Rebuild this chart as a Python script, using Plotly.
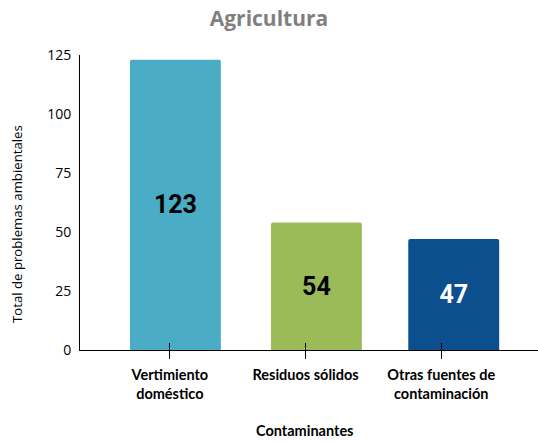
import plotly.graph_objects as go

categories = ["Vertimiento<br>doméstico", "Residuos sólidos", "Otras fuentes de<br>contaminación"]
values = [123, 54, 47]
bar_colors = ["#4BACC6", "#9BBB59", "#0B4F8F"]
text_colors = ["#000000", "#000000", "#FFFFFF"]
y_ticks = [0, 25, 50, 75, 100, 125]

W, H = 538, 441
L, R, T, B = 80, 0, 55, 91
PW, PH = W - L - R, H - T - B

fig = go.Figure()
fig.add_trace(go.Bar(
    x=categories,
    y=values,
    marker=dict(color=bar_colors, line=dict(width=0), cornerradius=2),
    width=0.67,
    offset=[-0.294, -0.255, -0.243],
    text=[str(v) for v in values],
    textposition="inside",
    insidetextanchor="middle",
    textangle=0,
    textfont=dict(family="Roboto", size=25, color=text_colors, weight="bold"),
    hoverinfo="skip",
))

fig.update_layout(
    width=W, height=H,
    margin=dict(l=L, r=R, t=T, b=B, autoexpand=False),
    paper_bgcolor="white",
    plot_bgcolor="white",
    showlegend=False,
    title=dict(text="<b>Agricultura</b>", x=0.5, xanchor="center", y=1 - 19 / H, yanchor="middle",
               font=dict(family="Open Sans", size=21, color="#7F7F7F")),
    xaxis=dict(
        type="category",
        range=[-0.662, 2.713],
        showline=True, linecolor="#000000", linewidth=1,
        ticks="outside", ticklen=8, tickcolor="#000000", tickwidth=1,
        ticklabelstandoff=4,
        showgrid=False, zeroline=False,
        tickfont=dict(family="Lato", size=14.5, color="#000000", weight="bold"),
        fixedrange=True,
    ),
    xaxis2=dict(
        type="category",
        overlaying="x", matches="x",
        range=[-0.662, 2.713],
        showline=False, showgrid=False, zeroline=False,
        ticks="inside", ticklen=7, tickcolor="#000000", tickwidth=1,
        showticklabels=False,
        layer="above traces",
    ),
    yaxis=dict(
        range=[0, 125],
        tickvals=y_ticks,
        ticktext=[str(v) for v in y_ticks],
        showline=True, linecolor="#000000", linewidth=1,
        ticks="", showgrid=False, zeroline=False,
        ticklabelstandoff=5,
        tickfont=dict(family="Open Sans", size=14, color="#000000"),
        fixedrange=True,
    ),
    annotations=[
        dict(text="Total de problemas ambientales", textangle=-90,
             xref="paper", yref="paper",
             x=-(L - 17) / PW, y=(H - B - 224) / PH,
             xanchor="center", yanchor="middle", showarrow=False,
             font=dict(family="Open Sans", size=13.2, color="#000000")),
        dict(text="<b>Contaminantes</b>",
             xref="paper", yref="paper",
             x=(305 - L) / PW, y=-(430 - (H - B)) / PH,
             xanchor="center", yanchor="middle", showarrow=False,
             font=dict(family="Lato", size=14.5, color="#000000")),
    ],
)

# invisible trace to activate the overlay axis for cross ticks
fig.add_trace(go.Scatter(x=categories, y=[None] * len(categories), xaxis="x2",
                         mode="markers", hoverinfo="skip", showlegend=False))

fig.write_html(
    "out.html",
    config={"displayModeBar": False, "staticPlot": True},
    post_script="document.body.style.margin='0';document.body.style.overflow='hidden';",
)
